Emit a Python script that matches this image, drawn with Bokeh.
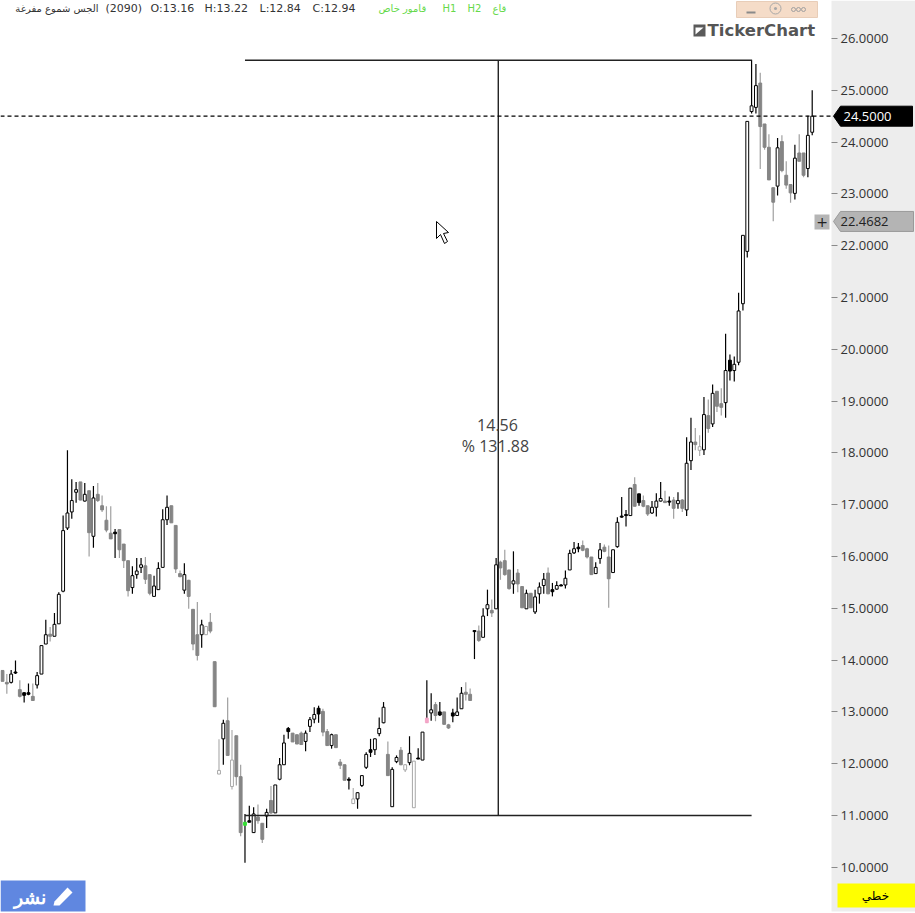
from bokeh.embed import file_html
from bokeh.resources import INLINE
from bokeh.plotting import figure
from bokeh.models import (ColumnDataSource, Range1d, LinearAxis, FixedTicker, NumeralTickFormatter)
from bokeh.core.properties import value

# ---- data -----------------------------------------------------------------------
highs = [13.80,13.73,13.81,13.99,13.61,13.38,13.55,13.55,13.77,14.28,
         14.78,14.64,14.91,15.31,16.79,18.05,17.49,17.44,17.44,17.42,
         17.27,17.36,17.42,17.18,16.97,16.97,16.53,16.52,16.24,15.92,
         15.81,15.97,15.97,15.99,15.65,15.63,15.89,16.91,17.18,16.98,
         16.60,15.73,15.87,15.55,14.98,15.12,14.78,14.65,14.91,13.97,
         12.47,12.85,13.28,12.65,12.54,11.98,11.03,11.19,11.16,11.21,
         10.85,11.13,11.57,11.59,12.11,12.56,12.71,12.59,12.56,12.62,
         12.64,12.90,13.09,13.12,13.06,12.67,12.58,12.56,12.09,11.98,
         11.74,11.53,11.45,11.77,12.22,12.48,12.49,12.89,13.19,12.43,
         11.93,12.16,12.32,11.99,12.53,12.05,12.30,12.61,13.61,13.36,
         13.19,13.19,13.00,12.77,13.06,13.28,13.48,13.57,13.45,14.57,
         14.67,15.00,15.36,15.17,15.97,15.92,16.13,15.74,16.10,15.76,
         15.42,15.36,15.29,15.36,15.50,15.68,15.79,15.49,15.52,15.47,
         15.73,16.13,16.28,16.26,16.31,16.17,15.99,15.89,16.26,16.23,
         16.21,16.13,16.76,17.15,16.90,17.32,17.53,17.21,17.18,16.98,
         17.07,17.22,17.44,17.27,17.16,17.15,17.24,17.11,18.30,18.68,
         18.48,18.34,19.08,19.03,19.32,19.19,19.25,20.30,19.90,19.86,
         21.09,22.20,24.40,25.59,25.51,25.34,24.35,24.15,23.12,24.08,
         24.13,23.63,23.19,23.95,24.15,23.79,24.51,25.00]
body_tops = [13.80,13.57,13.73,13.77,13.43,13.37,13.37,13.30,13.70,14.28,
         14.49,14.50,14.69,15.27,16.50,16.84,17.08,17.29,17.44,17.20,
         17.27,17.13,17.20,16.98,16.70,16.45,16.47,16.52,16.24,15.92,
         15.63,15.72,15.84,15.82,15.65,15.43,15.77,16.71,16.95,16.98,
         16.60,15.67,15.65,15.54,14.98,14.49,14.68,14.65,14.73,13.97,
         11.87,12.78,12.83,12.07,12.54,11.75,10.87,10.90,11.03,10.97,
         10.85,11.06,11.29,11.59,11.98,12.40,12.68,12.59,12.56,12.59,
         12.59,12.85,12.95,13.07,13.01,12.62,12.56,12.56,12.03,11.98,
         11.70,11.32,11.44,11.77,12.18,12.27,12.48,12.68,13.09,12.18,
         11.89,12.12,12.26,11.98,12.20,12.05,12.11,12.61,12.88,13.04,
         13.14,13.00,13.00,12.75,12.98,13.00,13.36,13.38,13.34,14.57,
         14.56,14.85,15.07,14.96,15.84,15.89,15.92,15.74,15.53,15.68,
         15.42,15.29,15.29,15.22,15.41,15.56,15.68,15.36,15.44,15.45,
         15.58,16.06,16.15,16.18,16.21,16.15,15.99,15.79,16.13,16.18,
         15.99,16.13,16.66,16.78,16.81,17.32,17.39,17.21,17.08,16.98,
         16.95,17.07,17.12,17.07,17.07,17.09,17.08,17.09,17.80,18.21,
         18.21,18.12,18.74,18.72,19.15,19.19,18.95,19.59,19.79,19.71,
         20.74,22.20,24.40,24.70,25.09,25.14,24.35,23.90,23.12,23.89,
         24.01,23.36,23.18,23.69,23.79,23.79,24.13,24.50]
body_bottoms = [13.59,13.54,13.57,13.75,13.30,13.32,13.34,13.22,13.52,13.73,
         14.31,14.46,14.46,14.70,15.33,16.55,16.86,17.24,17.09,17.07,
         16.46,16.39,17.08,16.90,16.51,16.34,16.44,16.13,15.92,15.34,
         15.40,15.65,15.79,15.56,15.29,15.23,15.36,15.79,16.71,16.65,
         15.76,15.61,15.35,15.23,14.31,14.09,14.49,14.49,14.56,13.10,
         11.80,12.48,12.16,11.56,11.75,10.67,10.81,10.87,10.67,10.90,
         10.54,10.99,11.05,11.05,11.70,11.98,12.62,12.42,12.38,12.37,
         12.43,12.72,12.86,12.96,12.61,12.35,12.35,12.31,11.97,11.68,
         11.68,11.23,11.32,11.58,11.93,12.22,12.27,12.58,12.79,11.77,
         11.17,12.04,11.98,11.88,12.02,11.15,12.09,12.07,12.79,12.98,
         12.93,12.94,12.76,12.69,12.92,12.93,13.06,13.34,13.22,14.55,
         14.38,14.44,14.99,14.91,14.99,15.78,15.65,15.38,15.47,15.47,
         15.01,14.99,15.01,14.93,15.28,15.44,15.28,15.32,15.37,15.43,
         15.45,15.74,16.07,16.15,16.12,15.99,15.65,15.67,15.96,16.10,
         15.57,15.69,16.19,16.76,16.79,16.79,16.97,17.04,16.97,16.82,
         16.84,16.95,17.07,17.04,17.05,16.93,17.02,16.93,16.90,17.85,
         18.16,18.05,18.06,18.47,18.56,18.90,18.88,18.97,19.58,19.59,
         19.75,20.88,21.89,24.59,24.67,24.30,23.90,23.27,22.84,23.15,
         23.45,23.17,23.02,23.01,23.63,23.36,23.49,24.19]
lows = [13.59,13.35,13.55,13.73,13.28,13.18,13.32,13.21,13.45,13.73,
         14.31,14.36,14.46,14.70,15.31,16.51,16.73,17.04,17.08,17.06,
         16.00,16.17,17.05,16.86,16.47,16.34,15.97,15.97,15.78,15.23,
         15.28,15.57,15.68,15.47,15.25,15.23,15.36,15.79,16.61,16.65,
         15.68,15.60,15.28,14.99,14.19,13.99,14.24,14.49,14.52,13.10,
         11.80,11.98,12.16,11.50,11.58,10.60,10.09,10.87,10.67,10.84,
         10.47,10.76,11.03,11.05,11.68,11.98,12.48,12.42,12.38,12.36,
         12.24,12.61,12.78,12.79,12.53,12.35,12.29,12.31,11.90,11.68,
         11.50,11.23,11.13,11.55,11.90,12.13,12.17,12.53,12.78,11.77,
         11.17,12.01,11.97,11.84,11.97,11.15,12.09,12.07,12.79,12.83,
         12.82,12.92,12.76,12.67,12.80,12.92,13.06,13.22,13.22,14.02,
         14.35,14.44,14.85,14.83,14.99,15.55,15.63,15.36,15.28,15.31,
         15.01,14.99,15.01,14.89,15.09,15.28,15.27,15.23,15.36,15.43,
         15.38,15.74,16.05,16.08,16.10,15.96,15.65,15.67,15.86,16.08,
         15.01,15.69,16.17,16.75,16.58,16.79,16.97,16.98,16.95,16.78,
         16.82,16.77,17.06,17.04,16.98,16.73,16.92,16.86,16.78,17.67,
         18.05,17.94,17.96,18.39,18.50,18.79,18.72,18.68,19.40,19.38,
         19.69,20.75,21.77,24.55,24.55,23.48,23.85,23.27,22.47,22.97,
         23.42,23.10,22.83,22.89,23.63,23.32,23.32,24.13]
kinds = list("gghbgbbghh" "hghhhhhhgh" "ghggggbggg" "hhhgghhhhg" "gghggghlgg"
             "lhglggnbhg" "ghghhhbggg" "hhhbgghggg" "blhhhbhhhg" "hhglhlbhph"
             "gbggbhhggb" "ghhghggghg" "ghghhhgbhb" "hhhbggghhg" "ghhbbhgbgg"
             "hhhgbghghh" "glhghgghbh" "hhhhhggggh" "ggghgghh")
assert len(highs) == len(body_tops) == len(body_bottoms) == len(lows) == len(kinds) == 188

tick_values = [10, 11, 12, 13, 14, 15, 16, 17, 18, 19, 20, 21, 22, 23, 24, 25, 26]
measure_high = 25.58
measure_low = 11.00
last_price = 24.50
cursor_price = 22.4682

header_values = ["(2090)", "O:13.16", "H:13.22", "L:12.84", "C:12.94"]
header_lefts = [105, 150, 204, 259, 312]
green_labels = ["قامور خاص", "H1", "H2", "قاع"]
green_lefts = [378, 442, 467, 492]

# ---- page geometry of the reference -----------------------------------------------
W, H, AXIS_X = 915, 913, 831
PPU = 51.8          # pixels per price unit
Y26 = 38            # pixel row of price 26
STEP, X0 = 4.33, 2  # pixels per candle, pixel of first candle


def xp(px):
    return (px - X0) / STEP


def yp(py):
    return 26 - (py - Y26) / PPU


p = figure(width=W, height=H, output_backend="svg", toolbar_location=None,
           x_range=Range1d(xp(0), xp(W)), y_range=Range1d(yp(H), yp(0)),
           x_axis_type=None, y_axis_type=None,
           min_border_left=0, min_border_top=0, min_border_bottom=0, min_border_right=0,
           background_fill_color="white", border_fill_color="white", outline_line_color=None)
p.grid.visible = False

# grey price panel, then the real price axis fixed at its left edge
p.quad(left=[xp(AXIS_X)], right=[xp(W)], top=[yp(0)], bottom=[yp(911)],
       fill_color="#ededed", line_color=None)
axis = LinearAxis(ticker=FixedTicker(ticks=tick_values),
                  formatter=NumeralTickFormatter(format="0.0000"),
                  fixed_location=xp(AXIS_X),
                  axis_line_color=None, major_tick_line_color="#8a8a8a",
                  major_tick_in=0, major_tick_out=6, minor_tick_line_color=None,
                  major_label_standoff=3, major_label_text_color="#333333",
                  major_label_text_font="Open Sans", major_label_text_font_size="13px")
p.add_layout(axis, "right")

# ---- candles ----------------------------------------------------------------------
STYLES = {
    "g": dict(wick="#a0a0a0", fill="#858585", line="#858585"),
    "h": dict(wick="#000000", fill="#ffffff", line="#000000"),
    "b": dict(wick="#000000", fill="#000000", line="#000000"),
    "l": dict(wick="#b0b0b0", fill="#ffffff", line="#a8a8a8"),
    "n": dict(wick="#000000", fill="#35e035", line="#35e035"),
    "p": dict(wick="#000000", fill="#f4a6c8", line="#f4a6c8"),
}
for kind, st in STYLES.items():
    idx = [i for i, k in enumerate(kinds) if k == kind]
    src = ColumnDataSource(dict(
        x=idx,
        high=[highs[i] for i in idx], low=[lows[i] for i in idx],
        top=[body_tops[i] for i in idx], bottom=[body_bottoms[i] for i in idx]))
    p.segment("x", "high", "x", "low", source=src, line_color=st["wick"], line_width=1.2)
    p.vbar("x", 0.66, "top", "bottom", source=src, fill_color=st["fill"],
           line_color=st["line"], line_width=1)

# ---- measuring tool and price line -------------------------------------------------
i_start, i_end = 56, 173
i_mid = (i_start + i_end) / 2
p.segment([i_start, i_start, i_mid], [measure_high, measure_low, measure_high],
          [i_end, i_end, i_mid], [measure_high, measure_low, measure_low],
          line_color="#222222", line_width=1.4)
p.segment([xp(0)], [last_price], [xp(AXIS_X)], [last_price], line_color="#000000",
          line_width=1.2, line_dash="4 3")
p.text([xp(497)], [yp(424)], text=["14.56"], text_align="center", text_baseline="middle",
       text_font=value("Open Sans"), text_font_size="16px", text_color="#444444")
p.text([xp(495)], [yp(445)], text=["% 131.88"], text_align="center", text_baseline="middle",
       text_font=value("Open Sans"), text_font_size="16px", text_color="#444444")

# ---- header -------------------------------------------------------------------------
p.text([xp(98)], [yp(8)], text=["الجس شموع مفرغة"], text_align="right", text_baseline="middle",
       text_font=value("DejaVu Sans"), text_font_size="10px", text_color="#333333")
for t, x in zip(header_values, header_lefts):
    p.text([xp(x)], [yp(8)], text=[t], text_align="left", text_baseline="middle",
           text_font=value("DejaVu Sans"), text_font_size="11px", text_color="#333333")
for t, x in zip(green_labels, green_lefts):
    p.text([xp(x)], [yp(8)], text=[t], text_align="left", text_baseline="middle",
           text_font=value("DejaVu Sans"), text_font_size="10px", text_color="#66d94a")

# ---- tool box, logo --------------------------------------------------------------------
p.quad(left=[xp(736)], right=[xp(817)], top=[yp(1)], bottom=[yp(17)],
       fill_color="#f5dcc8", line_color="#e8cdb8", line_width=1)
p.segment([xp(746)], [yp(12)], [xp(755)], [yp(12)], line_color="#8a8a8a", line_width=2)
p.scatter([xp(775)], [yp(8)], marker="circle", size=11, fill_color="#f5dcc8",
          line_color="#a8a8a8", line_width=1)
p.scatter([xp(775)], [yp(8)], marker="circle", size=3, fill_color="#a8a8a8", line_color=None)
p.scatter([xp(x) for x in (793, 798, 803)], [yp(9)] * 3, marker="circle", size=4,
          fill_color="#f5dcc8", line_color="#a0a0a0", line_width=1)
p.quad(left=[xp(693)], right=[xp(705)], top=[yp(24)], bottom=[yp(36)],
       fill_color="#5a5a5a", line_color=None)
p.patch([xp(695), xp(703), xp(695)], [yp(34), yp(27), yp(27)], fill_color="#ffffff", line_color=None)
p.text([xp(707)], [yp(30)], text=["TickerChart"], text_align="left", text_baseline="middle",
       text_font=value("DejaVu Sans"), text_font_size="16.5px", text_font_style="bold", text_color="#555555")

# ---- mouse cursor, + button, publish button ---------------------------------------------
p.patch([xp(v) for v in (436, 436, 440, 444, 447, 443, 448)],
        [yp(v) for v in (221, 238, 234, 243, 241, 233, 232)],
        fill_color="#ffffff", line_color="#000000", line_width=1)
p.quad(left=[xp(814)], right=[xp(829)], top=[yp(214)], bottom=[yp(229)],
       fill_color="#b5b5b5", line_color=None)
p.text([xp(821.5)], [yp(221)], text=["+"], text_align="center", text_baseline="middle",
       text_font=value("DejaVu Sans"), text_font_size="14px", text_color="#222222")
p.quad(left=[xp(0)], right=[xp(85)], top=[yp(880)], bottom=[yp(911)],
       fill_color="#6087e0", line_color=None)
p.text([xp(29)], [yp(896)], text=["نشر"], text_align="center", text_baseline="middle",
       text_font=value("Noto Sans"), text_font_size="19px", text_font_style="bold", text_color="#ffffff")
p.patch([xp(v) for v in (54, 67, 72, 59, 53)],
        [yp(v) for v in (901, 887, 892, 905, 905)], fill_color="#ffffff", line_color=None)

# ---- price tags in the axis panel ----------------------------------------------------------
TAG_H = 10 / PPU
p.patch([xp(833), xp(840), xp(912), xp(912), xp(840)],
        [last_price, last_price + TAG_H, last_price + TAG_H, last_price - TAG_H, last_price - TAG_H],
        fill_color="#000000", line_color="#000000")
p.text([xp(843)], [last_price], text=["24.5000"], text_baseline="middle",
       text_font=value("Open Sans"), text_font_size="13px", text_color="#ffffff")
p.patch([xp(833), xp(840), xp(913), xp(913), xp(840)],
        [cursor_price, cursor_price + TAG_H, cursor_price + TAG_H, cursor_price - TAG_H, cursor_price - TAG_H],
        fill_color="#b4b4b4", line_color="#9a9a9a")
p.text([xp(840)], [cursor_price], text=["22.4682"], text_baseline="middle",
       text_font=value("Open Sans"), text_font_size="13px", text_color="#222222")
p.quad(left=[xp(837)], right=[xp(W)], top=[yp(883)], bottom=[yp(907)],
       fill_color="#ffff00", line_color=None)
p.text([xp(875)], [yp(895)], text=["خطي"], text_align="center", text_baseline="middle",
       text_font=value("DejaVu Sans"), text_font_size="12px", text_color="#000000")

open("out.html", "w").write(file_html(p, INLINE))
